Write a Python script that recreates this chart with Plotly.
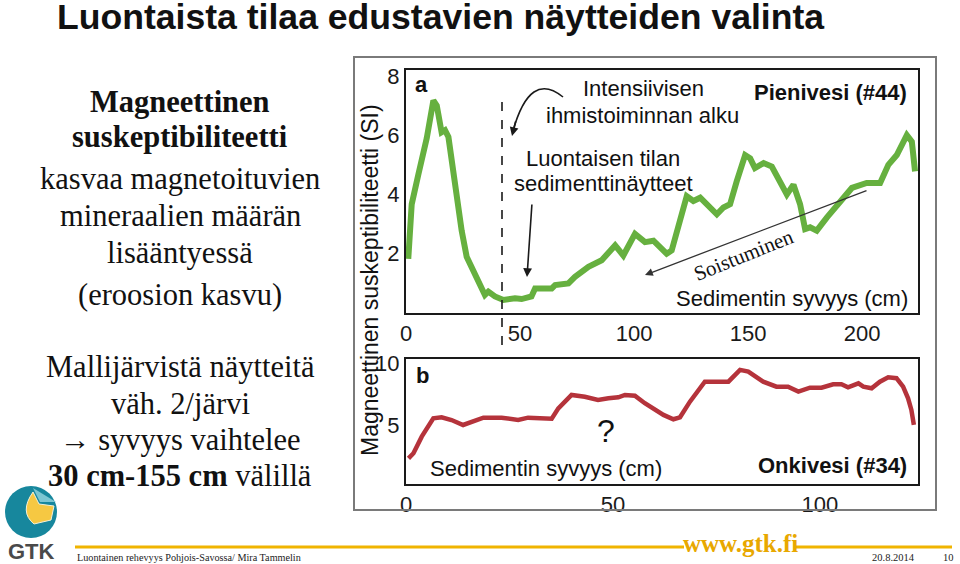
import plotly.graph_objects as go

W, H = 960, 564
SANS = "Liberation Sans, Arial, sans-serif"
SERIF = "Liberation Serif, Times New Roman, serif"

# Pienivesi (#44): sediment depth (cm) vs magnetic susceptibility (SI)
pien_depth = [1, 2.5, 5.4, 6.9, 9.1, 12, 13.5, 15.6, 17.1, 18.6, 21.5, 24.4, 26.6, 29.5,
              31.7, 34.6, 36.1, 39, 42.7, 47.8, 50.7, 55, 56.6, 63.9, 65.4, 71.2, 74.1, 80,
              85.8, 91.7, 95.3, 100.4, 104.8, 108.5, 114.3, 116.5, 123.1, 126, 129, 136.3,
              139.2, 142.1, 145, 148.7, 150.9, 153, 156.8, 160.4, 167, 169.9, 172.8, 175,
              177.2, 180.1, 184.5, 190.4, 195.5, 202, 207.9, 211.5, 215.2, 219.6, 221.8, 223.2]
pien_sus = [1.83, 3.67, 4.67, 5.1, 5.9, 7.17, 7.0, 6.1, 6.17, 5.94, 4.2, 2.78, 1.9, 1.44,
            1.0, 0.61, 0.72, 0.56, 0.44, 0.5, 0.47, 0.56, 0.83, 0.83, 0.94, 1.0, 1.22, 1.56,
            1.78, 2.28, 1.94, 2.67, 2.39, 2.44, 2.0, 2.11, 3.94, 3.78, 3.89, 3.33,
            3.56, 3.67, 4.44, 5.33, 5.22, 4.89, 5.06, 4.94, 4.0, 4.33, 3.67, 2.83,
            2.89, 2.78, 3.22, 3.78, 4.22, 4.39, 4.39, 5.0, 5.33, 6.0, 5.78, 4.78]

# Onkivesi (#34)
onki_depth = [0.6, 1.8, 3.8, 6.6, 8.6, 11, 13.8, 15.9, 18.7, 23.1, 27.1, 29.5, 32.8, 35.2,
              36.8, 40, 43.2, 46.4, 48.9, 51.3, 52.9, 55.3, 57.7, 59.7, 62.2, 64.6, 66.2,
              68.6, 72.2, 75, 77.9, 80.7, 82.7, 86.3, 89.5, 92.3, 94.8, 97.6, 100.4, 103.2,
              105.2, 106.8, 109.3, 110.5, 112.5, 114.5, 116.5, 118.5, 120.1, 121.3, 122.1, 122.7]
onki_sus = [2.31, 2.72, 4.06, 5.54, 5.62, 5.4, 5.0, 5.27, 5.59, 5.59, 5.4, 5.59, 5.51, 5.51,
            6.34, 7.42, 7.28, 7.02, 7.15, 7.23, 7.42, 7.36, 6.75, 6.35, 5.81, 5.46, 5.62,
            6.88, 8.49, 8.49, 8.49, 9.44, 9.3, 8.49, 8.09, 8.09, 7.69, 8.01, 8.01, 8.28,
            8.28, 8.04, 8.36, 8.09, 7.96, 8.49, 8.85, 8.77, 8.09, 7.15, 6.21, 5.0]

ticks_a_x = [0, 50, 100, 150, 200]
ticks_a_y = [2, 4, 6, 8]
ticks_b_x = [0, 50, 100]
ticks_b_y = [5, 10]


def px(x):
    return x / W


def py(y):
    return 1 - y / H


fig = go.Figure()
fig.add_trace(go.Scatter(x=pien_depth, y=pien_sus, mode='lines', xaxis='x', yaxis='y',
                         line=dict(color='#66b03f', width=6), showlegend=False))
fig.add_trace(go.Scatter(x=onki_depth, y=onki_sus, mode='lines', xaxis='x2', yaxis='y2',
                         line=dict(color='#b5333b', width=4.5), showlegend=False))

axis_style = dict(showgrid=False, zeroline=False, showline=True, mirror=True,
                  linecolor='#1a1a1a', linewidth=2, ticks='', fixedrange=True,
                  automargin=False,
                  tickfont=dict(family=SANS, size=22, color='#1a1a1a'))

fig.update_layout(
    width=W, height=H, margin=dict(l=0, r=0, t=0, b=0, autoexpand=False),
    paper_bgcolor='white', plot_bgcolor='white',
    xaxis=dict(domain=[px(406), px(918)], range=[0, 224.5], anchor='y',
               tickvals=ticks_a_x, **axis_style),
    yaxis=dict(domain=[py(313), py(70)], range=[0, 8.2], anchor='x',
               tickvals=ticks_a_y, **axis_style),
    xaxis2=dict(domain=[px(406), px(918)], range=[0, 123.7], anchor='y2',
                tickvals=ticks_b_x, **axis_style),
    yaxis2=dict(domain=[py(484), py(359)], range=[0.24, 10.32], anchor='x2',
                tickvals=ticks_b_y, **axis_style),
)


def txt(x, y, s, size, family=SANS, color='#111111', xanchor='center', angle=0):
    fig.add_annotation(x=px(x), y=py(y), xref='paper', yref='paper', text=s,
                       showarrow=False, xanchor=xanchor, yanchor='middle',
                       textangle=angle, font=dict(family=family, size=size, color=color))


# slide title
txt(55, 17, '<b>Luontaista tilaa edustavien näytteiden valinta</b>', 35.6, xanchor='left')

# left text block
left = [
    (102, '<b>Magneettinen</b>'),
    (137, '<b>suskeptibiliteetti</b>'),
    (179, 'kasvaa magnetoituvien'),
    (216, 'mineraalien määrän'),
    (253, 'lisääntyessä'),
    (295, '(eroosion kasvu)'),
    (367, 'Mallijärvistä näytteitä'),
    (404, 'väh. 2/järvi'),
    (440, '→ syvyys vaihtelee'),
    (476, '<b>30 cm-155 cm</b> välillä'),
]
for yy, s in left:
    txt(180, yy, s, 30.5, family=SERIF)

# figure frame
fig.add_shape(type='rect', xref='paper', yref='paper', x0=px(354), x1=px(936),
              y0=py(510), y1=py(57), line=dict(color='#7a7a7a', width=2))

# y axis title
txt(370, 280, 'Magneettinen suskeptibiliteetti (SI)', 23, angle=-90)

# panel a labels
txt(421, 85, '<b>a</b>', 22)
txt(830, 92, '<b>Pienivesi (#44)</b>', 22)
txt(643, 89, 'Intensiivisen', 22)
txt(642, 115, 'ihmistoiminnan alku', 22)
txt(603, 158, 'Luontaisen tilan', 22)
txt(603, 183, 'sedimenttinäytteet', 22)
txt(792, 298, 'Sedimentin syvyys (cm)', 22)
txt(744, 255, 'Soistuminen', 21, family=SERIF, angle=-22)

# panel b labels
txt(422, 375, '<b>b</b>', 22)
txt(606, 431, '?', 32)
txt(546, 468, 'Sedimentin syvyys (cm)', 22)
txt(832, 465, '<b>Onkivesi (#34)</b>', 22)

# dashed line marking the start of human activity
fig.add_shape(type='line', xref='paper', yref='paper', x0=px(502), x1=px(502),
              y0=py(345), y1=py(102), line=dict(color='#1a1a1a', width=1.6, dash='dash'))

# curved arrow from "Intensiivisen..."
fig.add_shape(type='path', xref='paper', yref='paper',
              path=f'M {px(563)},{py(97)} Q {px(530)},{py(70)} {px(513)},{py(131)}',
              line=dict(color='#1a1a1a', width=1.6))
fig.add_annotation(x=px(512), y=py(136), xref='paper', yref='paper', text='', showarrow=True,
                   ax=4, ay=-16, arrowhead=2, arrowsize=1.1, arrowwidth=1.6, arrowcolor='#1a1a1a')
# arrow from "Luontaisen tilan..."
fig.add_annotation(x=px(527), y=py(277), xref='paper', yref='paper', text='', showarrow=True,
                   ax=5, ay=-74, arrowhead=2, arrowsize=1.1, arrowwidth=1.6, arrowcolor='#1a1a1a')
# Soistuminen arrow
fig.add_annotation(x=px(645), y=py(275), xref='paper', yref='paper', text='', showarrow=True,
                   ax=223, ay=-85, arrowhead=2, arrowsize=1.2, arrowwidth=1.3, arrowcolor='#333333')

# footer
fig.add_shape(type='line', xref='paper', yref='paper', x0=px(75), x1=px(684),
              y0=py(547), y1=py(547), line=dict(color='#f0b400', width=3))
fig.add_shape(type='line', xref='paper', yref='paper', x0=px(796), x1=px(952),
              y0=py(547), y1=py(547), line=dict(color='#f0b400', width=3))
txt(740, 543, '<b>www.gtk.fi</b>', 25, family=SERIF, color='#e8a800')
txt(75, 557, 'Luontainen rehevyys Pohjois-Savossa/ Mira Tammelin', 10.2, family=SERIF,
    color='#222222', xanchor='left')
txt(893, 557, '20.8.2014', 10.5, family=SERIF, color='#222222')
txt(948, 557, '10', 10.5, family=SERIF, color='#222222')

# GTK logo
fig.add_shape(type='circle', xref='paper', yref='paper', x0=px(5), x1=px(57),
              y0=py(538), y1=py(486), line=dict(width=0), fillcolor='#17879d')
fig.add_shape(type='path', xref='paper', yref='paper',
              path=(f'M {px(33)},{py(488)} L {px(56)},{py(502)} L {px(40)},{py(502)} Z'),
              line=dict(width=0), fillcolor='#7cc6d2')
fig.add_shape(type='path', xref='paper', yref='paper',
              path=(f'M {px(33)},{py(492)} Q {px(19)},{py(512)} {px(34)},{py(524)} '
                    f'L {px(51)},{py(520)} L {px(54)},{py(506)} L {px(39)},{py(504)} Z'),
              line=dict(color='#f3f0d8', width=1), fillcolor='#f6c842')
txt(31, 551, '<b>GTK</b>', 22, color='#4a4a4a')

fig.write_html("out.html", config={'displayModeBar': False},
               post_script="document.body.style.margin='0px';")
